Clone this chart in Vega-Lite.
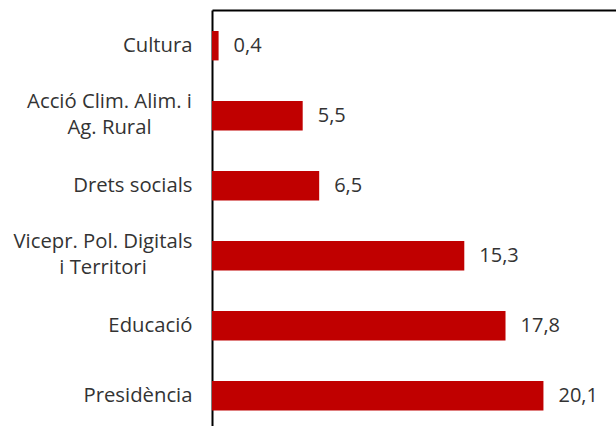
{
  "$schema": "https://vega.github.io/schema/vega-lite/v6.json",
  "autosize": "none",
  "width": 404,
  "height": 416,
  "padding": {"left": 212, "top": 10, "right": 0, "bottom": 0},
  "background": "white",
  "config": {"view": {"stroke": null}, "font": "Open Sans"},
  "data": {"values": [
    {"cat": "Cultura", "value": 0.4, "lab": "0,4"},
    {"cat": "Acció Clim. Alim. i|Ag. Rural", "value": 5.5, "lab": "5,5"},
    {"cat": "Drets socials", "value": 6.5, "lab": "6,5"},
    {"cat": "Vicepr. Pol. Digitals|i Territori", "value": 15.3, "lab": "15,3"},
    {"cat": "Educació", "value": 17.8, "lab": "17,8"},
    {"cat": "Presidència", "value": 20.1, "lab": "20,1"}
  ]},
  "encoding": {
    "y": {"field": "cat", "type": "nominal", "sort": null,
      "scale": {"paddingInner": 0.58, "paddingOuter": 0.3, "range": [0, 421.5]},
      "axis": {"title": null, "ticks": false, "domainColor": "black", "domainWidth": 2,
        "labelExpr": "split(datum.label, '|')",
        "labelFontSize": 20.3, "labelColor": "#333333", "labelLineHeight": 26, "labelLimit": 400,
        "labelAlign": {"condition": {"test": "indexof(datum.value, '|') >= 0", "value": "center"}, "value": "right"},
        "labelPadding": {"condition": [
          {"test": "datum.value == 'Acció Clim. Alim. i|Ag. Rural'", "value": 103},
          {"test": "datum.value == 'Vicepr. Pol. Digitals|i Territori'", "value": 109.5}
        ], "value": 20},
        "labelOffset": {"condition": {"test": "indexof(datum.value, '|') >= 0", "value": -13.5}, "value": 0}}},
    "x": {"field": "value", "type": "quantitative", "scale": {"domain": [0, 24.5]},
      "axis": {"orient": "top", "title": null, "labels": false, "ticks": false, "grid": false,
        "domainColor": "black", "domainWidth": 2}}
  },
  "layer": [
    {"mark": {"type": "bar", "color": "#C00000"}},
    {"mark": {"type": "text", "align": "left", "dx": 15, "fontSize": 20, "color": "#333333"},
     "encoding": {"text": {"field": "lab"}}}
  ]
}
